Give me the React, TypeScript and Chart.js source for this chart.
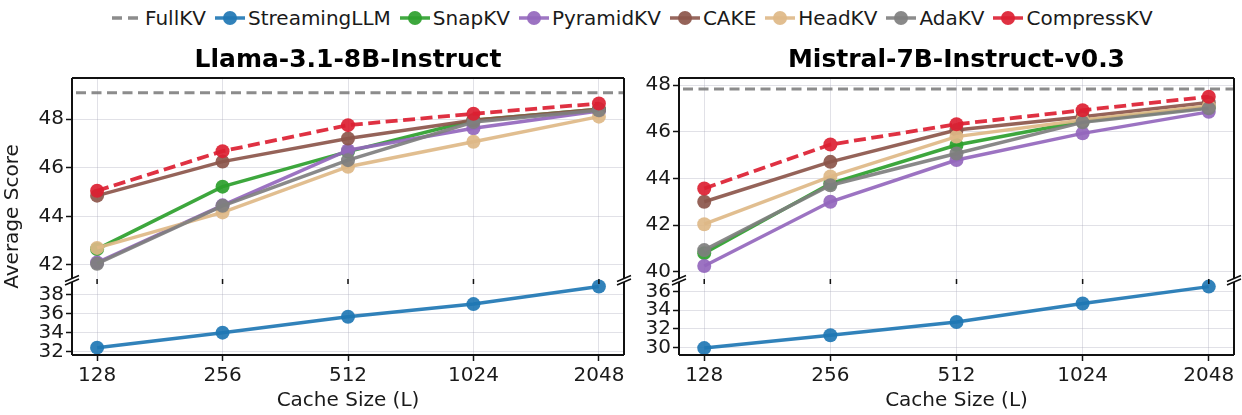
import React, { useEffect, useRef } from 'react';
import { Chart, registerables } from 'chart.js';

Chart.register(...registerables);

// ---------- data ----------
const cacheSizes = ['128', '256', '512', '1024', '2048'];
const methods = ['StreamingLLM', 'SnapKV', 'PyramidKV', 'CAKE', 'HeadKV', 'AdaKV', 'CompressKV'];
const methodColors = ['#1f77b4', '#2ca02c', '#9467bd', '#8c564b', '#deb887', '#7f7f7f', '#dc1f32'];
const fullKVColor = '#7f7f7f';

const llamaTitle = 'Llama-3.1-8B-Instruct';
const llamaFullKV = 49.08;
const llamaStreaming = [32.42, 33.99, 35.66, 36.98, 38.82];
const llamaSnap = [42.65, 45.22, 46.66, 47.95, 48.4];
const llamaPyramid = [42.1, 44.45, 46.72, 47.62, 48.33];
const llamaCake = [44.85, 46.25, 47.2, 47.95, 48.4];
const llamaHead = [42.7, 44.16, 46.04, 47.07, 48.1];
const llamaAda = [42.05, 44.43, 46.31, 47.88, 48.36];
const llamaCompress = [45.05, 46.68, 47.75, 48.22, 48.64];
const llamaTopTicks = [42, 44, 46, 48];
const llamaBottomTicks = [32, 34, 36, 38];
const llamaTopRange = [41.38, 49.69];
const llamaBottomRange = [31.65, 39.5];

const mistralTitle = 'Mistral-7B-Instruct-v0.3';
const mistralFullKV = 47.83;
const mistralStreaming = [29.94, 31.32, 32.75, 34.72, 36.54];
const mistralSnap = [40.8, 43.78, 45.43, 46.45, 47.05];
const mistralPyramid = [40.25, 43.0, 44.79, 45.93, 46.85];
const mistralCake = [43.0, 44.71, 46.07, 46.64, 47.25];
const mistralHead = [42.04, 44.08, 45.79, 46.5, 47.1];
const mistralAda = [40.93, 43.71, 45.07, 46.4, 47.0];
const mistralCompress = [43.57, 45.45, 46.32, 46.92, 47.5];
const mistralTopTicks = [40, 42, 44, 46, 48];
const mistralBottomTicks = [30, 32, 34, 36];
const mistralTopRange = [39.65, 48.3];
const mistralBottomRange = [29.2, 37.25];

const FONT = '"DejaVu Sans", sans-serif';
const TEXT = '#1a1a1a';

function hexA(hex: string, a: number) {
  const r = parseInt(hex.slice(1, 3), 16);
  const g = parseInt(hex.slice(3, 5), 16);
  const b = parseInt(hex.slice(5, 7), 16);
  return `rgba(${r},${g},${b},${a})`;
}

type PanelProps = {
  title: string;
  series: number[][];
  fullKV: number;
  topTicks: number[];
  bottomTicks: number[];
  topRange: number[];
  bottomRange: number[];
  width: number;
  left: number;
  yAxisWidth: number;
  padRight: number;
  showYLabel: boolean;
};

function Panel(p: PanelProps) {
  const ref = useRef<HTMLCanvasElement | null>(null);
  const H = 385;

  useEffect(() => {
    if (!ref.current) return;
    const tickFont = { family: FONT, size: 20 };
    const gridColor = 'rgba(170,170,185,0.35)';

    const datasets = methods.map((name, i) => {
      const c = methodColors[i];
      const isC = name === 'CompressKV';
      return {
        label: name,
        data: p.series[i].map((v, j) => ({ x: j, y: v })),
        yAxisID: i === 0 ? 'yb' : 'yt',
        borderColor: hexA(c, 0.92),
        backgroundColor: hexA(c, 0.92),
        pointBackgroundColor: hexA(c, 0.92),
        pointBorderWidth: 0,
        pointRadius: 7,
        borderWidth: isC ? 3.8 : 3.5,
        borderDash: isC ? [12, 5.5] : [],
        tension: 0,
        order: 20 - i,
        clip: false as any,
      };
    });

    const decor = {
      id: 'decor',
      beforeDatasetsDraw(chart: any) {
        const { ctx, chartArea } = chart;
        const y = chart.scales.yt.getPixelForValue(p.fullKV);
        ctx.save();
        ctx.strokeStyle = hexA(fullKVColor, 0.9);
        ctx.lineWidth = 3;
        ctx.setLineDash([10, 5.5]);
        ctx.beginPath();
        ctx.moveTo(chartArea.left + 4, y);
        ctx.lineTo(chartArea.right, y);
        ctx.stroke();
        ctx.restore();
      },
      afterDraw(chart: any) {
        const { ctx, chartArea } = chart;
        const { left, right, top, bottom } = chartArea;
        const by = chart.scales.yt.bottom;
        const xs = chart.scales.x;
        ctx.save();
        ctx.strokeStyle = '#111';
        ctx.lineWidth = 2;
        ctx.setLineDash([]);
        ctx.beginPath();
        ctx.moveTo(left, top); ctx.lineTo(right, top);
        ctx.moveTo(left, bottom); ctx.lineTo(right, bottom);
        for (const x of [left, right]) {
          ctx.moveTo(x, top); ctx.lineTo(x, by - 1);
          ctx.moveTo(x, by + 2); ctx.lineTo(x, bottom);
        }
        ctx.stroke();
        // break marks
        ctx.lineWidth = 1.5;
        ctx.beginPath();
        for (const x of [left, right]) {
          for (const yy of [by - 1.5, by + 2]) {
            ctx.moveTo(x - 7, yy + 3);
            ctx.lineTo(x + 7, yy - 3);
          }
        }
        ctx.stroke();
        // ticks at the break
        ctx.beginPath();
        cacheSizes.forEach((_, i) => {
          const x = xs.getPixelForValue(i);
          ctx.moveTo(x, by - 1);
          ctx.lineTo(x, by + 4);
        });
        ctx.stroke();
        // title
        ctx.fillStyle = '#000';
        ctx.font = `bold 25px ${FONT}`;
        ctx.textAlign = 'center';
        ctx.textBaseline = 'middle';
        ctx.fillText(p.title, (left + right) / 2, 30);
        if (p.showYLabel) {
          ctx.save();
          ctx.translate(13, (top + bottom) / 2);
          ctx.rotate(-Math.PI / 2);
          ctx.font = `20px ${FONT}`;
          ctx.fillStyle = TEXT;
          ctx.fillText('Average Score', 0, 0);
          ctx.restore();
        }
        ctx.restore();
      },
    };

    const yScale = (ticks: number[], range: number[], weight: number, sw: number) => ({
      type: 'linear',
      position: 'left',
      stack: 'panel',
      stackWeight: sw,
      weight,
      min: range[0],
      max: range[1],
      bounds: 'data',
      afterBuildTicks: (s: any) => {
        s.ticks = ticks.map((v) => ({ value: v }));
      },
      afterFit: (s: any) => {
        s.width = p.yAxisWidth;
      },
      ticks: { font: tickFont, color: TEXT, padding: 2, autoSkip: false },
      grid: { color: gridColor, lineWidth: 1, tickColor: '#111', tickLength: 6, tickWidth: 1.5 },
      border: { display: false },
    });

    const chart = new Chart(ref.current, {
      type: 'line',
      data: { datasets: datasets as any },
      options: {
        animation: false,
        responsive: false,
        maintainAspectRatio: false,
        layout: { padding: { top: 48, right: p.padRight, left: 0, bottom: 0 } },
        plugins: { legend: { display: false }, tooltip: { enabled: false }, title: { display: false } },
        scales: {
          x: {
            type: 'linear',
            min: -0.2,
            max: 4.2,
            bounds: 'data',
            afterBuildTicks: (s: any) => {
              s.ticks = cacheSizes.map((_, i) => ({ value: i }));
            },
            afterFit: (s: any) => {
              s.height = 60;
            },
            ticks: {
              font: tickFont,
              color: TEXT,
              padding: 3,
              autoSkip: false,
              maxRotation: 0,
              callback: (_v: any, i: number) => cacheSizes[i],
            },
            grid: { color: gridColor, lineWidth: 1, tickColor: '#111', tickLength: 6, tickWidth: 1.5 },
            border: { display: false },
            title: { display: true, text: 'Cache Size (L)', font: tickFont, color: TEXT, padding: { top: 0, bottom: 2 } },
          },
          yb: yScale(p.bottomTicks, p.bottomRange, 1, 75) as any,
          yt: yScale(p.topTicks, p.topRange, 2, 202) as any,
        },
      } as any,
      plugins: [decor],
    });
    return () => chart.destroy();
  }, []);

  return (
    <canvas
      ref={ref}
      width={p.width}
      height={H}
      style={{ position: 'absolute', left: p.left, top: 30, width: p.width, height: H }}
    />
  );
}

const legendItems = [
  { label: 'FullKV', color: fullKVColor, dashed: true, marker: false },
  ...methods.map((m, i) => ({ label: m, color: methodColors[i], dashed: false, marker: true })),
];

function Legend() {
  return (
    <div
      style={{
        position: 'absolute',
        left: 112,
        top: 0,
        height: 36,
        display: 'flex',
        alignItems: 'center',
        fontFamily: FONT,
        fontSize: 20,
        color: TEXT,
        whiteSpace: 'nowrap',
      }}
    >
      {legendItems.map((it) => (
        <div key={it.label} style={{ display: 'flex', alignItems: 'center', marginRight: 9 }}>
          <svg width={30} height={16} style={{ display: 'block' }}>
            <line
              x1={0}
              y1={8}
              x2={30}
              y2={8}
              stroke={hexA(it.color, 0.9)}
              strokeWidth={3.5}
              strokeDasharray={it.dashed ? '10 6' : undefined}
            />
            {it.marker && <circle cx={15} cy={8} r={7} fill={hexA(it.color, 0.92)} />}
          </svg>
          <span style={{ marginLeft: 3 }}>{it.label}</span>
        </div>
      ))}
    </div>
  );
}

export default function App() {
  return (
    <div style={{ position: 'absolute', left: 0, top: 0, width: 1242, height: 415, background: '#fff', overflow: 'hidden' }}>
      <Legend />
      <Panel
        title={llamaTitle}
        series={[llamaStreaming, llamaSnap, llamaPyramid, llamaCake, llamaHead, llamaAda, llamaCompress]}
        fullKV={llamaFullKV}
        topTicks={llamaTopTicks}
        bottomTicks={llamaBottomTicks}
        topRange={llamaTopRange}
        bottomRange={llamaBottomRange}
        width={640}
        left={0}
        yAxisWidth={72}
        padRight={16}
        showYLabel={true}
      />
      <Panel
        title={mistralTitle}
        series={[mistralStreaming, mistralSnap, mistralPyramid, mistralCake, mistralHead, mistralAda, mistralCompress]}
        fullKV={mistralFullKV}
        topTicks={mistralTopTicks}
        bottomTicks={mistralBottomTicks}
        topRange={mistralTopRange}
        bottomRange={mistralBottomRange}
        width={610}
        left={632}
        yAxisWidth={47}
        padRight={8}
        showYLabel={false}
      />
    </div>
  );
}
